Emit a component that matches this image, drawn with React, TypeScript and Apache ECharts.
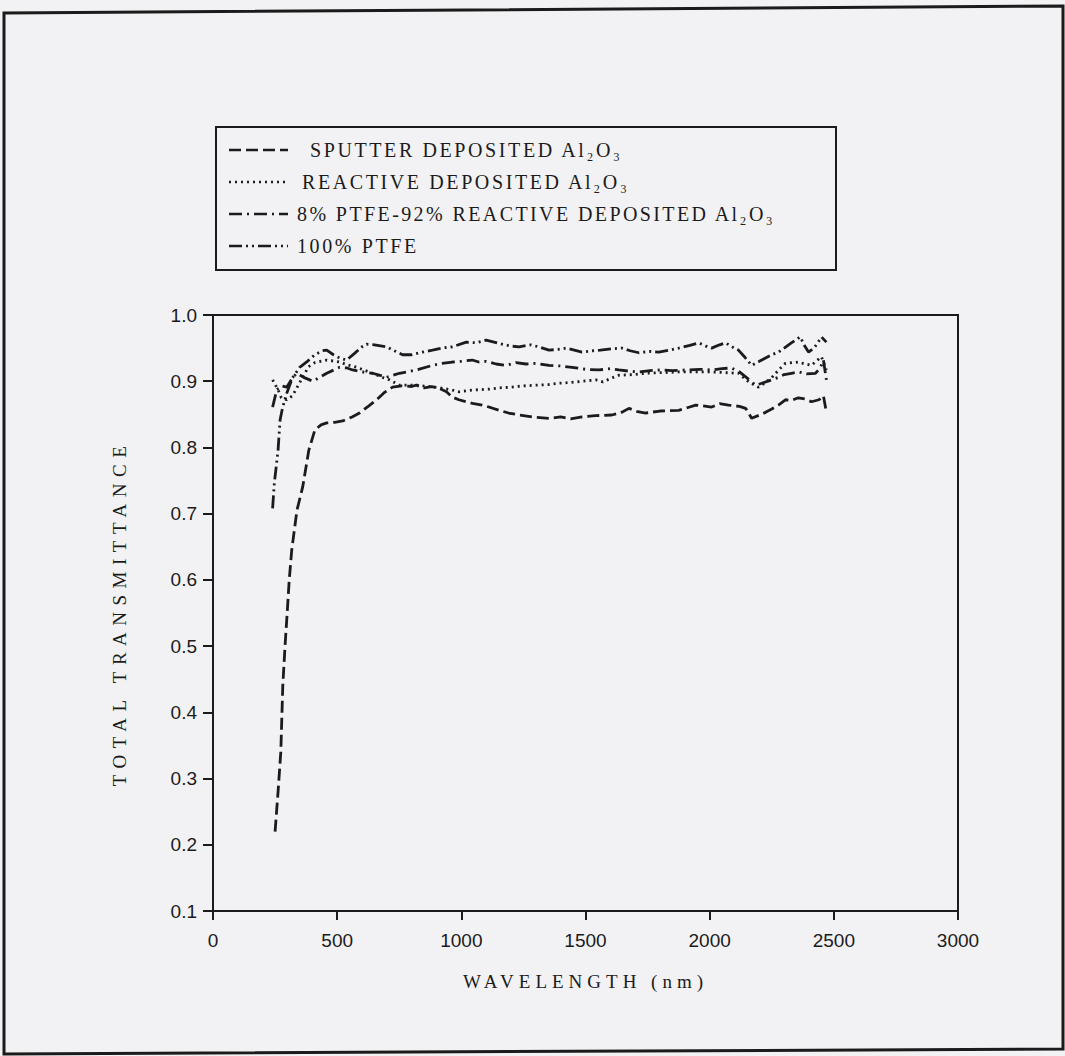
import React, { useEffect, useRef } from "react";
import * as echarts from "echarts";

// ---------- data (wavelength nm, total transmittance) ----------
const sputterName = "SPUTTER DEPOSITED Al₂O₃";
const reactiveName = "REACTIVE DEPOSITED Al₂O₃";
const mixName = "8% PTFE-92% REACTIVE DEPOSITED Al₂O₃";
const ptfeName = "100% PTFE";

const xTickValues = [0, 500, 1000, 1500, 2000, 2500, 3000];
const yTickLabels = ["0.1", "0.2", "0.3", "0.4", "0.5", "0.6", "0.7", "0.8", "0.9", "1.0"];

const sputter: [number, number][] = [
  [250, 0.22], [262, 0.28], [273, 0.34], [281, 0.44], [290, 0.5], [297, 0.54], [307, 0.6], [317, 0.645],
  [338, 0.705], [361, 0.74], [386, 0.796], [410, 0.826], [435, 0.834], [458, 0.837], [490, 0.838], [522, 0.84],
  [560, 0.846], [590, 0.852], [625, 0.862], [659, 0.872], [690, 0.883], [723, 0.891], [760, 0.893], [800, 0.892],
  [819, 0.894], [850, 0.89], [880, 0.892], [912, 0.889], [940, 0.884], [964, 0.876], [990, 0.872], [1020, 0.869],
  [1050, 0.866], [1084, 0.864], [1120, 0.86], [1153, 0.856], [1190, 0.852], [1233, 0.849], [1290, 0.846],
  [1353, 0.844], [1400, 0.846], [1440, 0.843], [1486, 0.846], [1540, 0.848], [1606, 0.849], [1640, 0.852],
  [1675, 0.859], [1710, 0.854], [1743, 0.852], [1800, 0.855], [1875, 0.856], [1910, 0.86], [1944, 0.864],
  [2008, 0.861], [2040, 0.866], [2076, 0.864], [2120, 0.862], [2145, 0.859], [2169, 0.844], [2195, 0.848],
  [2225, 0.853], [2250, 0.858], [2277, 0.864], [2305, 0.872], [2330, 0.871], [2357, 0.875], [2385, 0.873],
  [2410, 0.869], [2440, 0.872], [2458, 0.878], [2470, 0.853],
];

const reactive: [number, number][] = [
  [240, 0.902], [250, 0.895], [262, 0.887], [275, 0.875], [297, 0.872], [320, 0.878], [345, 0.895], [361, 0.906],
  [385, 0.922], [410, 0.928], [458, 0.932], [510, 0.929], [540, 0.925], [578, 0.921], [643, 0.912], [680, 0.906],
  [711, 0.902], [751, 0.894], [819, 0.894], [870, 0.892], [912, 0.89], [960, 0.887], [992, 0.884], [1030, 0.886],
  [1060, 0.887], [1110, 0.888], [1153, 0.89], [1200, 0.891], [1250, 0.893], [1301, 0.894], [1350, 0.895],
  [1394, 0.897], [1440, 0.898], [1486, 0.9], [1542, 0.902], [1570, 0.899], [1600, 0.904], [1634, 0.909],
  [1690, 0.91], [1743, 0.912], [1810, 0.913], [1875, 0.914], [1940, 0.914], [2008, 0.914], [2060, 0.913],
  [2116, 0.912], [2157, 0.899], [2197, 0.891], [2225, 0.898], [2249, 0.905], [2280, 0.918], [2305, 0.927],
  [2357, 0.929], [2385, 0.926], [2410, 0.924], [2450, 0.937], [2470, 0.917],
];

const mix: [number, number][] = [
  [240, 0.861], [257, 0.887], [275, 0.893], [297, 0.891], [320, 0.905], [337, 0.912], [370, 0.905], [402, 0.9],
  [430, 0.906], [458, 0.912], [510, 0.921], [540, 0.92], [562, 0.917], [600, 0.914], [643, 0.912], [699, 0.906],
  [751, 0.912], [819, 0.917], [884, 0.924], [920, 0.927], [964, 0.929], [1000, 0.93], [1044, 0.932], [1070, 0.929],
  [1100, 0.93], [1140, 0.926], [1181, 0.924], [1220, 0.928], [1260, 0.926], [1300, 0.927], [1353, 0.924],
  [1400, 0.923], [1446, 0.921], [1500, 0.918], [1554, 0.917], [1600, 0.919], [1634, 0.917], [1680, 0.915],
  [1715, 0.914], [1760, 0.916], [1800, 0.917], [1850, 0.916], [1904, 0.917], [1960, 0.918], [2008, 0.917],
  [2050, 0.919], [2088, 0.92], [2120, 0.914], [2150, 0.905], [2185, 0.894], [2210, 0.897], [2250, 0.902],
  [2277, 0.906], [2300, 0.91], [2329, 0.912], [2360, 0.914], [2390, 0.911], [2426, 0.912], [2445, 0.92],
  [2458, 0.932], [2470, 0.902],
];

const ptfe: [number, number][] = [
  [240, 0.708], [247, 0.746], [262, 0.796], [270, 0.841], [280, 0.86], [297, 0.882], [320, 0.905], [349, 0.921],
  [380, 0.93], [410, 0.94], [440, 0.946], [458, 0.947], [485, 0.94], [510, 0.935], [538, 0.932], [570, 0.942],
  [600, 0.952], [618, 0.956], [650, 0.955], [699, 0.952], [730, 0.946], [763, 0.94], [800, 0.94], [831, 0.943],
  [884, 0.947], [920, 0.95], [964, 0.952], [1020, 0.959], [1060, 0.958], [1100, 0.962], [1153, 0.957],
  [1200, 0.953], [1233, 0.952], [1280, 0.955], [1320, 0.951], [1353, 0.947], [1390, 0.948], [1422, 0.95],
  [1486, 0.944], [1530, 0.946], [1560, 0.947], [1610, 0.949], [1647, 0.95], [1680, 0.946], [1715, 0.943],
  [1760, 0.945], [1795, 0.944], [1840, 0.947], [1875, 0.95], [1920, 0.954], [1956, 0.958], [1985, 0.953],
  [2008, 0.95], [2040, 0.955], [2064, 0.958], [2090, 0.952], [2116, 0.947], [2140, 0.937], [2169, 0.924],
  [2200, 0.93], [2225, 0.935], [2250, 0.94], [2277, 0.944], [2300, 0.95], [2329, 0.958], [2365, 0.967],
  [2380, 0.955], [2398, 0.944], [2420, 0.95], [2435, 0.958], [2450, 0.967], [2470, 0.959],
];

// ---------- styles ----------
const INK = "#1b1b1b";
const BG = "#f2f2f4";
const DASH_SPUTTER = [12, 5];
const DASH_REACTIVE = [2, 4];
const DASH_MIX = [13, 5, 2, 5];
const DASH_PTFE = [13, 4, 2, 4, 2, 4];

const xTitle = "WAVELENGTH (nm)";
const yTitle = "TOTAL TRANSMITTANCE";

const spacingMap: Record<string, string> = {
  [xTitle]: "5",
  [yTitle]: "6.5",
  [sputterName]: "2.6",
  [reactiveName]: "2.6",
  [mixName]: "2.4",
  [ptfeName]: "2.6",
};

export default function App() {
  const ref = useRef<HTMLDivElement | null>(null);

  useEffect(() => {
    if (!ref.current) return;
    const chart = echarts.init(ref.current, null, { renderer: "svg" });

    const legendRows = [
      { name: sputterName, dash: DASH_SPUTTER, y: 150, tx: 310 },
      { name: reactiveName, dash: DASH_REACTIVE, y: 182, tx: 302 },
      { name: mixName, dash: DASH_MIX, y: 214, tx: 297 },
      { name: ptfeName, dash: DASH_PTFE, y: 246, tx: 297 },
    ];

    const graphics: any[] = [
      {
        type: "polygon",
        shape: { points: [[4, 13], [1063, 6], [1063, 1049], [4, 1054]] },
        style: { fill: "none", stroke: INK, lineWidth: 3 },
        silent: true,
      },
      {
        type: "rect",
        shape: { x: 216, y: 127, width: 620, height: 143 },
        style: { fill: "none", stroke: INK, lineWidth: 2 },
        silent: true,
      },
    ];
    legendRows.forEach((r) => {
      graphics.push({
        type: "line",
        shape: { x1: 229, y1: r.y, x2: 288, y2: r.y },
        style: { stroke: INK, lineWidth: 2.5, lineDash: r.dash },
        silent: true,
      });
      graphics.push({
        type: "text",
        x: r.tx,
        y: r.y,
        style: {
          text: r.name,
          font: "20px 'Liberation Serif'",
          fill: INK,
          align: "left",
          textAlign: "left",
          verticalAlign: "middle",
          textVerticalAlign: "middle",
        },
        silent: true,
      });
    });

    const mkSeries = (name: string, data: [number, number][], dash: number[]) => ({
      name,
      type: "line",
      data,
      showSymbol: false,
      symbol: "none",
      smooth: false,
      lineStyle: { color: INK, width: 2.8, type: dash },
      z: 3,
    });

    chart.setOption({
      animation: false,
      backgroundColor: BG,
      grid: {
        left: 213,
        top: 315,
        width: 745,
        height: 596,
        show: true,
        borderColor: INK,
        borderWidth: 2,
        backgroundColor: "transparent",
      },
      xAxis: {
        type: "value",
        min: 0,
        max: 3000,
        interval: 500,
        name: xTitle,
        nameLocation: "middle",
        nameGap: 61,
        nameTextStyle: { fontFamily: "Liberation Serif", fontSize: 19, color: INK },
        axisLine: { show: true, lineStyle: { color: INK, width: 2 } },
        axisTick: { show: true, inside: false, length: 9, lineStyle: { color: INK, width: 2 } },
        axisLabel: {
          margin: 20,
          fontFamily: "Liberation Sans",
          fontSize: 19,
          color: INK,
          formatter: (v: number) => (xTickValues.includes(v) ? String(v) : ""),
        },
        splitLine: { show: false },
      },
      yAxis: {
        type: "value",
        min: 0.1,
        max: 1.0,
        interval: 0.1,
        name: yTitle,
        nameLocation: "middle",
        nameRotate: 90,
        nameGap: 84,
        nameTextStyle: { fontFamily: "Liberation Serif", fontSize: 19, color: INK },
        axisLine: { show: true, lineStyle: { color: INK, width: 2 } },
        axisTick: { show: true, inside: false, length: 10, lineStyle: { color: INK, width: 2 } },
        axisLabel: {
          margin: 16,
          fontFamily: "Liberation Sans",
          fontSize: 19,
          color: INK,
          formatter: (v: number) => {
            const s = v.toFixed(1);
            return yTickLabels.includes(s) ? s : "";
          },
        },
        splitLine: { show: false },
      },
      series: [
        mkSeries(sputterName, sputter, DASH_SPUTTER),
        mkSeries(reactiveName, reactive, DASH_REACTIVE),
        mkSeries(mixName, mix, DASH_MIX),
        mkSeries(ptfeName, ptfe, DASH_PTFE),
      ],
      graphic: graphics,
    });

    const applySpacing = () => {
      const root = ref.current;
      if (!root) return;
      root.querySelectorAll("text").forEach((t) => {
        const s = spacingMap[(t.textContent || "").trim()];
        if (s) t.setAttribute("letter-spacing", s);
      });
    };
    applySpacing();
    const raf = requestAnimationFrame(applySpacing);
    const t1 = setTimeout(applySpacing, 50);
    const t2 = setTimeout(applySpacing, 300);

    return () => {
      cancelAnimationFrame(raf);
      clearTimeout(t1);
      clearTimeout(t2);
      chart.dispose();
    };
  }, []);

  return (
    <div
      ref={ref}
      style={{ position: "absolute", left: 0, top: 0, width: 1065, height: 1056, background: BG }}
    />
  );
}
